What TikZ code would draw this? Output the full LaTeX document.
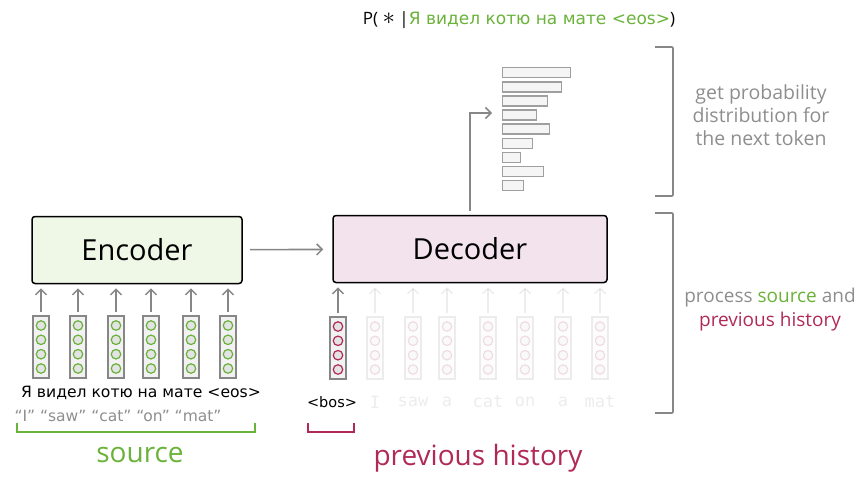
\documentclass[tikz,border=0pt]{standalone}
\usepackage{fontspec}
\setmainfont{Open Sans}
\newfontfamily\comicfont{DejaVu Sans}
\newfontfamily\monofont{DejaVu Sans Mono}
\usetikzlibrary{arrows.meta}

\definecolor{srcgreen}{HTML}{6AB23A}
\definecolor{histred}{HTML}{B02A55}
\definecolor{encfill}{HTML}{EFF7E6}
\definecolor{decfill}{HTML}{F3E3EC}
\definecolor{linegray}{HTML}{878787}
\definecolor{txtgray}{HTML}{8E8E8E}

\tikzset{
  block/.style={draw=black, line width=1.5pt, rounded corners=3pt, minimum height=67pt, font=\fontsize{29}{30}\selectfont},
  arr/.style={draw=linegray, line width=1.6pt, -{Straight Barb[length=5.5pt,width=11pt,line width=1.5pt]}},
  vec/.style={draw=linegray, line width=1.5pt, fill=gray!10, minimum width=16pt, minimum height=62pt, inner sep=0pt},
  unit/.style={circle, line width=1.2pt, fill=gray!22, minimum size=9.5pt, inner sep=0pt},
  bar/.style={draw=gray!75, line width=1.4pt, fill=gray!8, minimum height=10pt, inner sep=0pt, anchor=north west},
  note/.style={align=center, text=txtgray, font=\fontsize{19.5}{23}\selectfont},
  faint/.style={opacity=0.15}
}

\begin{document}
\begin{tikzpicture}[x=1pt, y=-1pt]
  \useasboundingbox (0,0) rectangle (864,477);

  % encoder and decoder blocks
  \node[block, fill=encfill, minimum width=210pt] (enc) at (137,250) {Encoder};
  \node[block, fill=decfill, minimum width=274pt] (dec) at (470,249) {Decoder};
  \draw[arr, shorten <=7pt, shorten >=9pt] (enc) -- (dec);

  % output distribution
  \foreach \w [count=\i] in {68,59,45,34,47,30,18,41,21}
    \node[bar, minimum width=\w pt] (bar\i) at (502,{67+(\i-1)*14.1}) {};
  \coordinate (histin) at (492,113);
  \draw[arr, shorten <=4pt] (dec.north -| histin) ++(-22,0) coordinate (decout) -- (decout |- histin) -- (histin);

  \node[font=\fontsize{17}{20}\selectfont] (prob) at (519,20)
    {P( {\fontsize{24}{24}\selectfont$\ast$} |{\comicfont\color{srcgreen}Я видел котю на мате <eos>})};

  % source tokens
  \foreach \x [count=\i] in {41,78,116,151,191,228} {
    \node[vec] (e\i) at (\x,347) {};
    \foreach \dy [count=\j] in {-21.5,-7.2,7.2,21.5}
      \node[unit, draw=srcgreen] (e\i u\j) at ([yshift=\dy pt]e\i.center) {};
    \draw[arr, shorten <=3pt, shorten >=4pt] (e\i.north) -- (e\i.north |- enc.south);
  }
  \node[font=\comicfont\fontsize{15.6}{16}\selectfont] (srcru) at (141,393) {Я видел котю на мате <eos>};
  \node[font=\comicfont\fontsize{15.5}{16}\selectfont, text=txtgray] (srcen) at (118,416) {“I” “saw” “cat” “on” “mat”};
  \draw[srcgreen, line width=1.6pt] (17,423) |- (255,432) -- (255,423);
  \node[text=srcgreen, font=\fontsize{28}{30}\selectfont] (srclbl) at (140,455) {source};

  % target tokens: only <bos> is available yet
  \node[vec] (d1) at (338,348) {};
  \foreach \dy [count=\j] in {-21.5,-7.2,7.2,21.5}
    \node[unit, draw=histred] (d1u\j) at ([yshift=\dy pt]d1.center) {};
  \draw[arr, shorten <=3pt, shorten >=4pt] (d1.north) -- (d1.north |- dec.south);
  \node[font=\comicfont\fontsize{14.5}{16}\selectfont] (bos) at (332,402) {<bos>};

  \foreach \x/\t [count=\i from 2] in {375/I,413/saw,447/a,488/cat,525/on,563/a,600/mat} {
    \begin{scope}[faint]
      \node[vec] (d\i) at (\x,348) {};
      \foreach \dy [count=\j] in {-21.5,-7.2,7.2,21.5}
        \node[unit, draw=histred] (d\i u\j) at ([yshift=\dy pt]d\i.center) {};
      \draw[arr, shorten <=3pt, shorten >=4pt] (d\i.north) -- (d\i.north |- dec.south);
      \node[font=\monofont\fontsize{17}{18}\selectfont, text=gray] (w\i) at (\x,402) {\t};
    \end{scope}
  }
  \draw[histred, line width=1.6pt] (308,423) |- (354,432) -- (354,423);
  \node[text=histred, font=\fontsize{28}{30}\selectfont] (histlbl) at (478,458) {previous history};

  % right-side brackets and notes
  \draw[linegray, line width=1.6pt, rounded corners=1pt] (655,47) -| (673,196) -- (655,196);
  \draw[linegray, line width=1.6pt, rounded corners=1pt] (655,213) -| (673,413) -- (655,413);
  \node[note] (topnote) at (761,115) {get probability\\distribution for\\the next token};
  \node[note, font=\fontsize{19}{24}\selectfont] (botnote) at (770,310) {process {\color{srcgreen}source} and\\{\color{histred}previous history}};
\end{tikzpicture}
\end{document}
